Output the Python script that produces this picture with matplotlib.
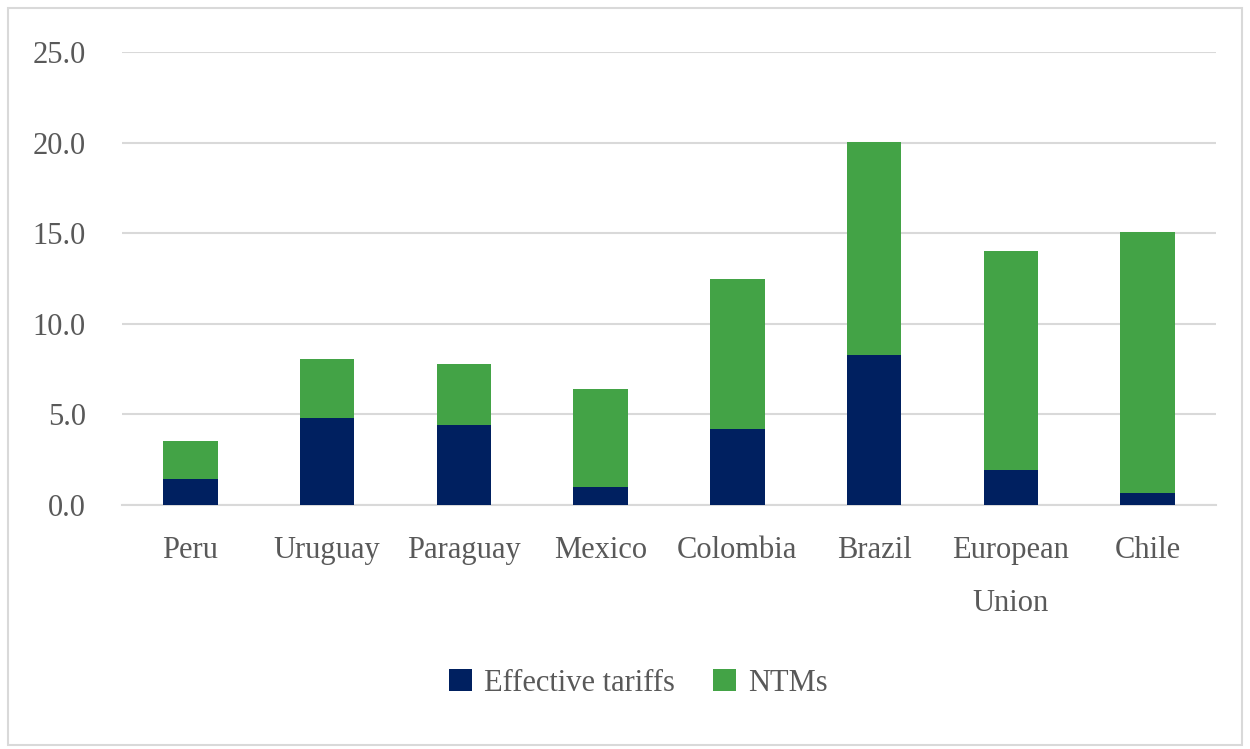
import matplotlib.pyplot as plt
import numpy as np
from matplotlib.patches import Rectangle

countries = ['Peru', 'Uruguay', 'Paraguay', 'Mexico', 'Colombia', 'Brazil',
             'European\nUnion', 'Chile']
tariffs = [1.43, 4.80, 4.41, 0.99, 4.19, 8.28, 1.93, 0.66]
totals = [3.53, 8.06, 7.78, 6.40, 12.47, 20.03, 14.02, 15.07]
ntms = [t - e for t, e in zip(totals, tariffs)]

navy = '#002060'
green = '#43A346'
grey_text = '#595959'
grid_col = '#D9D9D9'

plt.rcParams['font.family'] = ['Liberation Serif', 'DejaVu Serif']

fig = plt.figure(figsize=(12.5, 7.49), dpi=100)
ax = fig.add_axes([0.0976, 0.3258, 0.8752, 0.6048])

x = np.arange(len(countries))
w = 0.40
ax.bar(x, tariffs, w, color=navy, label='Effective tariffs', zorder=3)
ax.bar(x, ntms, w, bottom=tariffs, color=green, label='NTMs', zorder=3)

ax.set_xlim(-0.5, len(countries) - 0.5)
ax.set_ylim(0, 25)
ax.set_yticks(np.arange(0, 26, 5))
ax.set_yticklabels([f'{v:.1f}' for v in np.arange(0, 26, 5)])
ax.yaxis.grid(True, color=grid_col, linewidth=1.5, zorder=0)
ax.set_xticks(x)
ax.set_xticklabels(countries, linespacing=2.1, va='top')
for s in ['top', 'right', 'left']:
    ax.spines[s].set_visible(False)
ax.spines['bottom'].set_color(grid_col)
ax.spines['bottom'].set_linewidth(1.5)
ax.tick_params(axis='both', length=0, labelsize=22, labelcolor=grey_text)
ax.tick_params(axis='y', pad=26)
ax.tick_params(axis='x', pad=22)

leg = fig.legend(loc='center', bbox_to_anchor=(0.511, 0.088), ncol=2, frameon=False,
                 fontsize=22, labelcolor=grey_text, handlelength=0.75, handleheight=0.75,
                 handletextpad=0.4, columnspacing=1.25)

# outer chart border
fig.patches.append(Rectangle((0.0064, 0.006), 0.9872, 0.983, transform=fig.transFigure,
                             fill=False, edgecolor=grid_col, linewidth=1.5))

fig.savefig('out.png', dpi=100)
